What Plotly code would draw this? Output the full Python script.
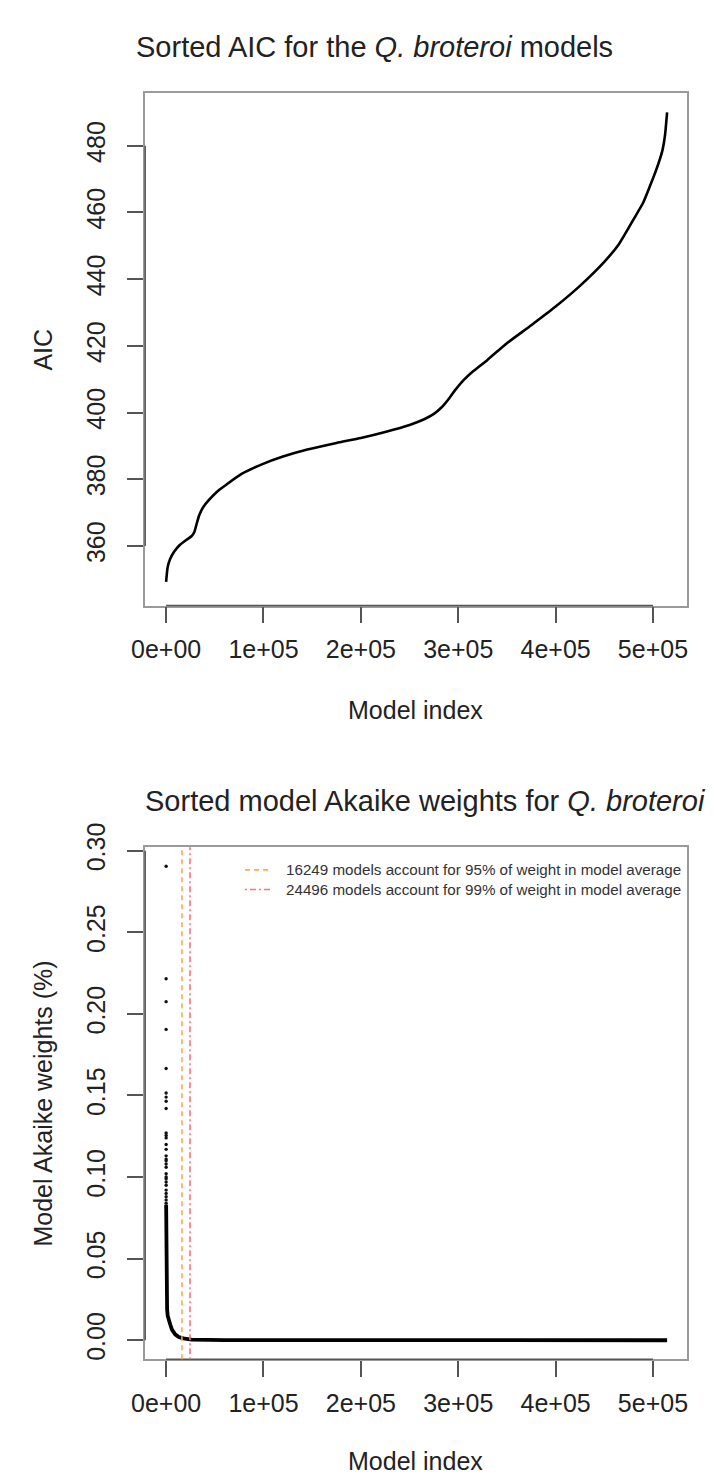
import plotly.graph_objects as go

# ---------------- data ----------------
# Top panel: sorted AIC (sampled along the curve)
aic_index = [1, 1500, 4000, 8000, 14000, 20700, 26000, 29000, 31500, 34000, 38000, 44000,
             52000, 61000, 77500, 97700, 120000, 145000, 175000, 200000, 225000, 250000,
             265000, 275000, 283000, 290000, 297000, 305000, 315000, 330000, 350000,
             375000, 400000, 425000, 450000, 465000, 479000, 490000, 497000, 503000,
             507000, 510000, 512500, 514500]
aic_value = [349.2, 353.5, 356.0, 358.2, 360.3, 361.8, 362.9, 364.2, 366.8, 369.2, 371.6,
             373.8, 376.2, 378.2, 381.6, 384.4, 386.8, 388.9, 390.9, 392.4, 394.2, 396.3,
             398.0, 399.6, 401.6, 404.0, 406.8, 409.6, 412.3, 415.8, 420.8,
             426.2, 431.8, 438.0, 445.2, 450.5, 457.4, 463.0, 468.0, 472.5,
             475.9, 479.0, 483.5, 490.0]

# Bottom panel: sorted Akaike weights
top_w_index = list(range(1, 30))
top_w_value = [0.2905, 0.2215, 0.2075, 0.1905, 0.1665, 0.1515, 0.1490, 0.1465, 0.1420,
               0.1270, 0.1255, 0.1240, 0.1200, 0.1170, 0.1130, 0.1110, 0.1100, 0.1080,
               0.1060, 0.1020, 0.1000, 0.0990, 0.0970, 0.0950, 0.0920, 0.0900, 0.0880,
               0.0860, 0.0840]
tail_w_index = [30, 200, 600, 1000, 1600, 2500, 3500, 4300, 6000, 9300, 13000, 17700,
                26000, 60000, 200000, 514500]
tail_w_value = [0.083, 0.050, 0.030, 0.019, 0.015, 0.0125, 0.0108, 0.0095, 0.0065,
                0.0036, 0.0020, 0.0012, 0.0004, 0.0001, 0.00002, 0.0]

cutoff_95 = 16249
cutoff_99 = 24496
legend_labels = ["16249 models account for 95% of weight in model average",
                 "24496 models account for 99% of weight in model average"]

x_ticks = [0, 100000, 200000, 300000, 400000, 500000]
x_ticklabels = ["0e+00", "1e+05", "2e+05", "3e+05", "4e+05", "5e+05"]
aic_ticks = [360, 380, 400, 420, 440, 460, 480]
w_ticks = [0.00, 0.05, 0.10, 0.15, 0.20, 0.25, 0.30]
w_ticklabels = ["0.00", "0.05", "0.10", "0.15", "0.20", "0.25", "0.30"]

# ---------------- styling ----------------
FONT = "Liberation Sans, Arial, Helvetica, sans-serif"
W, H = 714, 1481
ORANGE = "#FFA94D"
RED = "#FF6F78"

xdom = [134 / W, 687 / W]
ydom_top = [1 - 591 / H, 1 - 69 / H]
ydom_bot = [1 - 1358 / H, 1 - 837 / H]

fig = go.Figure()

fig.add_trace(go.Scatter(x=aic_index, y=aic_value, mode="lines",
                         line=dict(color="black", width=2.6, shape="spline", smoothing=0.5),
                         xaxis="x", yaxis="y", showlegend=False))

fig.add_trace(go.Scatter(x=tail_w_index, y=tail_w_value, mode="lines",
                         line=dict(color="black", width=3.8),
                         xaxis="x2", yaxis="y2", showlegend=False))
fig.add_trace(go.Scatter(x=top_w_index, y=top_w_value, mode="markers",
                         marker=dict(color="#111", size=3.4),
                         xaxis="x2", yaxis="y2", showlegend=False))

axis_common = dict(showgrid=False, zeroline=False, showline=True, mirror=True,
                   linecolor="#9a9a9a", linewidth=1.5, ticks="outside", ticklen=16,
                   tickwidth=1.5, tickcolor="#555",
                   tickfont=dict(family=FONT, size=25, color="#222"))

fig.update_layout(
    width=W, height=H, margin=dict(l=0, r=0, t=0, b=0),
    paper_bgcolor="white", plot_bgcolor="white", showlegend=False,
    xaxis=dict(domain=xdom, anchor="y", range=[-21500, 534500],
               tickmode="array", tickvals=x_ticks, ticktext=x_ticklabels,
               ticklabelstandoff=5, **axis_common),
    yaxis=dict(domain=ydom_top, anchor="x", range=[342.1, 495.9],
               tickmode="array", tickvals=aic_ticks,
               ticktext=[str(v) for v in aic_ticks], tickangle=-90,
               ticklabelstandoff=12, **axis_common),
    xaxis2=dict(domain=xdom, anchor="y2", range=[-21500, 534500],
                tickmode="array", tickvals=x_ticks, ticktext=x_ticklabels,
                ticklabelstandoff=5, **axis_common),
    yaxis2=dict(domain=ydom_bot, anchor="x2", range=[-0.0116, 0.3021],
                tickmode="array", tickvals=w_ticks, ticktext=w_ticklabels,
                tickangle=-90, ticklabelstandoff=12, **axis_common),
)

shapes = []
# darker axis lines between first and last ticks (R style)
for xr, yr in (("x", "y"), ("x2", "y2")):
    shapes.append(dict(type="line", xref=xr, yref=yr + " domain", x0=x_ticks[0],
                       x1=x_ticks[-1], y0=0, y1=0, line=dict(color="#555", width=1.5)))
shapes.append(dict(type="line", xref="x domain", yref="y", x0=0, x1=0,
                   y0=aic_ticks[0], y1=aic_ticks[-1], line=dict(color="#555", width=1.5)))
shapes.append(dict(type="line", xref="x2 domain", yref="y2", x0=0, x1=0,
                   y0=w_ticks[0], y1=w_ticks[-1], line=dict(color="#555", width=1.5)))
# cutoff lines
shapes.append(dict(type="line", xref="x2", yref="y2 domain", x0=cutoff_95, x1=cutoff_95,
                   y0=0, y1=1, line=dict(color=ORANGE, width=1.6, dash="5px,4px")))
shapes.append(dict(type="line", xref="x2", yref="y2 domain", x0=cutoff_99, x1=cutoff_99,
                   y0=0, y1=1, line=dict(color=RED, width=1.6, dash="2px,3px,6px,3px")))
# legend samples
leg_y = [860, 880]
for yy, col, dsh in zip(leg_y, [ORANGE, RED], ["5px,4px", "2px,3px,6px,3px"]):
    shapes.append(dict(type="line", xref="paper", yref="paper", x0=236 / W, x1=262 / W,
                       y0=1 - yy / H, y1=1 - yy / H, line=dict(color=col, width=1.6, dash=dsh)))

annotations = []
for yy, txt in zip(leg_y, legend_labels):
    annotations.append(dict(text=txt, xref="paper", yref="paper", x=276 / W, y=1 - yy / H,
                            xanchor="left", yanchor="middle", showarrow=False,
                            font=dict(family=FONT, size=15.2, color="#333")))

cx = (xdom[0] + xdom[1]) / 2
annotations += [
    dict(text="Sorted AIC for the <i>Q. broteroi</i> models", x=368 / W, y=1 - 22 / H,
         xref="paper", yref="paper", xanchor="center", yanchor="middle", showarrow=False,
         font=dict(family=FONT, size=29, color="#222")),
    dict(text="Sorted model Akaike weights for <i>Q. broteroi</i>", x=420 / W, y=1 - 790 / H,
         xref="paper", yref="paper", xanchor="center", yanchor="middle", showarrow=False,
         font=dict(family=FONT, size=29, color="#222")),
    dict(text="Model index", x=cx, y=1 - 697 / H, xref="paper", yref="paper",
         xanchor="center", yanchor="middle", showarrow=False,
         font=dict(family=FONT, size=25, color="#222")),
    dict(text="Model index", x=cx, y=1 - 1462 / H, xref="paper", yref="paper",
         xanchor="center", yanchor="middle", showarrow=False,
         font=dict(family=FONT, size=25, color="#222")),
    dict(text="AIC", x=30 / W, y=(ydom_top[0] + ydom_top[1]) / 2, xref="paper",
         yref="paper", xanchor="center", yanchor="middle", textangle=-90, showarrow=False,
         font=dict(family=FONT, size=25, color="#222")),
    dict(text="Model Akaike weights (%)", x=30 / W, y=(ydom_bot[0] + ydom_bot[1]) / 2,
         xref="paper", yref="paper", xanchor="center", yanchor="middle", textangle=-90,
         showarrow=False, font=dict(family=FONT, size=25, color="#222")),
]

fig.update_layout(shapes=shapes, annotations=annotations)
fig.write_html("out.html")
